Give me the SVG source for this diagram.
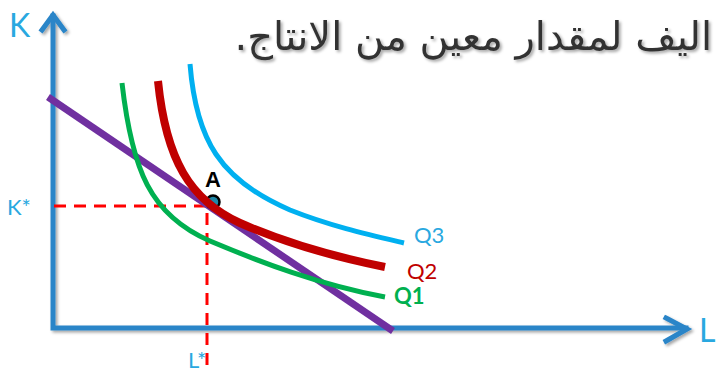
<svg xmlns="http://www.w3.org/2000/svg" width="716" height="375" viewBox="0 0 716 375">
<style>
.axis{fill:none;stroke:#2A85C8;stroke-width:5;stroke-linecap:square;stroke-linejoin:miter}
.curve{fill:none;stroke-linecap:butt}
.dash{fill:none;stroke:#FF0000;stroke-width:3;stroke-dasharray:12 8}
.lbl{font-family:Lato,"Open Sans",sans-serif}
</style>
<defs>
<filter id="sh" x="-10%" y="-10%" width="120%" height="120%">
<feDropShadow dx="2" dy="2" stdDeviation="1.5" flood-color="#000" flood-opacity="0.35"/>
</filter>
</defs>
<rect width="716" height="375" fill="#fff"/>
<g id="title">
<text x="712" y="50" direction="rtl" text-anchor="start" font-family="'DejaVu Sans',sans-serif" font-size="40" fill="#333" filter="url(#sh)">اليف لمقدار معين من الانتاج.</text>
</g>
<g id="axes" filter="url(#sh)">
<path class="axis" d="M53,328 L53,16 M53,328 L686,328"/>
<path class="axis" d="M42,30 L53,15 L64,30" stroke-linecap="round"/>
<path class="axis" d="M666,318 L687,329 L666,341" stroke-linecap="round"/>
</g>
<g id="connectors">
<path class="dash" d="M54,206 L207,206 L207,370"/>
</g>
<g id="budget-line">
<path class="curve" d="M48,97 L393,331" stroke="#7030A0" stroke-width="7"/>
</g>
<g id="Q1">
<path class="curve" d="M122,83 C132,170 150,215 210,241 C260,262 320,285 385,297" stroke="#00B050" stroke-width="5"/>
</g>
<g id="pointA">
<circle cx="213" cy="202" r="6.5" fill="#1F88A8" stroke="#000" stroke-width="2.5"/>
<text x="213" y="187" text-anchor="middle" font-family="'Liberation Sans',Arial,sans-serif" font-weight="bold" font-size="22" fill="#000">A</text>
</g>
<g id="Q2">
<path class="curve" d="M158,81 C166,160 190,200 240,223 C290,245 340,258 385,267" stroke="#C00000" stroke-width="8"/>
</g>
<g id="Q3">
<path class="curve" d="M190,64 C196,140 220,180 290,210 C330,226 370,235 404,243" stroke="#00B0F0" stroke-width="5"/>
</g>
<g id="labels">
<text class="lbl" x="9" y="37" font-size="32" fill="#29A8E0">K</text>
<text class="lbl" x="699" y="342" font-size="32" fill="#29A8E0">L</text>
<text class="lbl" x="7" y="215" font-size="22" fill="#29A8E0">K*</text>
<text class="lbl" x="188" y="368" font-size="22" fill="#29A8E0">L*</text>
<text class="lbl" x="414" y="243" font-size="22" fill="#29A8E0">Q3</text>
<text class="lbl" x="407" y="279" font-size="22" fill="#C00000">Q2</text>
<text class="lbl" x="394" y="304" font-size="22" font-weight="bold" fill="#00B050">Q1</text>
</g>
</svg>
